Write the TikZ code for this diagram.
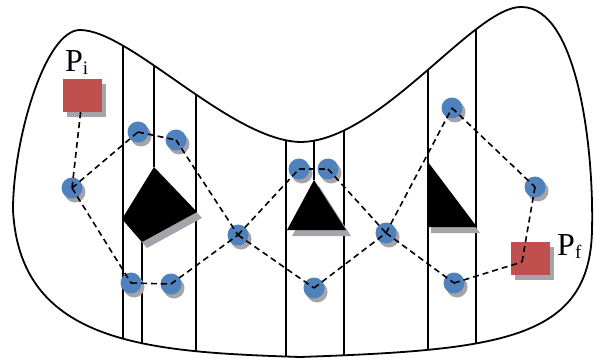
\documentclass[tikz,border=0pt]{standalone}
\usepackage{fontspec}
\setmainfont{Liberation Serif}
\usetikzlibrary{shadows}
\definecolor{dotblue}{HTML}{4F81BD}
\definecolor{boxred}{HTML}{C0504D}
\definecolor{shade}{HTML}{A4A4AA}
\begin{document}
\begin{tikzpicture}[x=1pt,y=-1pt,
  dot/.style={circle,fill=dotblue,minimum size=21pt,inner sep=0pt,
    drop shadow={shadow xshift=3pt,shadow yshift=-4pt,opacity=1,fill=shade}},
  sqbox/.style={rectangle,fill=boxred,minimum width=39pt,minimum height=33pt,inner sep=0pt,
    drop shadow={shadow xshift=4pt,shadow yshift=-5pt,opacity=1,fill=shade}},
  dashline/.style={dash pattern=on 6pt off 4pt,line width=1.6pt},
  wall/.style={line width=1.6pt},
  rim/.style={line width=1.8pt},
  block/.style={fill=black},
  blockshade/.style={fill=shade}]
\useasboundingbox (0,0) rectangle (596,358);
\def\outlinepath{(80,30) .. controls (130,30) and (230,140) .. (300,142)
  .. controls (380,142) and (475,5) .. (522,7)
  .. controls (578,8) and (594,150) .. (592,230)
  .. controls (590,340) and (500,350) .. (300,357)
  .. controls (150,352) and (20,345) .. (13,210)
  .. controls (13,140) and (45,30) .. (80,30) -- cycle}
% vertical walls, clipped to the outline
\begin{scope}
  \clip \outlinepath;
  \draw[wall] (123,0) -- (123,358);
  \draw[wall] (154,0) -- (154,167);
  \draw[wall] (142,242) -- (142,358);
  \draw[wall] (196,0) -- (196,358);
  \draw[wall] (286,0) -- (286,358);
  \draw[wall] (314,0) -- (314,180);
  \draw[wall] (344,0) -- (344,358);
  \draw[wall] (428,0) -- (428,358);
  \draw[wall] (476,0) -- (476,358);
\end{scope}
\draw[rim] \outlinepath;
% obstacles with shadows
\fill[blockshade,shift={(5,6)}] (154,167) -- (197,212) -- (142,242) -- (122,219) -- cycle;
\fill[block] (154,167) -- (197,212) -- (142,242) -- (122,219) -- cycle;
\fill[blockshade,shift={(5,6)}] (314,180) -- (346,230) -- (287,230) -- cycle;
\fill[block] (314,180) -- (346,230) -- (287,230) -- cycle;
\fill[blockshade,shift={(3,6)}] (428,162) -- (477,227) -- (428,227) -- cycle;
\fill[block] (428,162) -- (477,227) -- (428,227) -- cycle;
% start and goal
\node[sqbox] (pi) at (82.5,95.5) {};
\node[sqbox] (pf) at (530.5,258) {};
\coordinate (pfin) at (522,262);
\node[anchor=base west,inner sep=0pt] (pilab) at (65,72)
  {\fontsize{32}{32}\selectfont P\raisebox{-3pt}{\fontsize{19}{19}\selectfont i}};
\node[anchor=base west,inner sep=0pt] (pflab) at (557,255)
  {\fontsize{32}{32}\selectfont P\raisebox{-3pt}{\fontsize{19}{19}\selectfont f}};
% roadmap nodes
\node[dot] (c1) at (72,188) {};
\node[dot] (c2) at (138,132) {};
\node[dot] (c3) at (176,140) {};
\node[dot] (c4) at (238,235) {};
\node[dot] (c5) at (131,283) {};
\node[dot] (c6) at (171,284) {};
\node[dot] (c7) at (299,169) {};
\node[dot] (c8) at (328,169) {};
\node[dot] (c9) at (314,288) {};
\node[dot] (c10) at (386,233) {};
\node[dot] (c11) at (452,108) {};
\node[dot] (c12) at (535,187) {};
\node[dot] (c13) at (454,283) {};
% roadmap edges
\draw[dashline] (pi) -- (c1.center);
\draw[dashline] (c1.center) -- (c2.center);
\draw[dashline] (c2.center) -- (c3.center);
\draw[dashline] (c3.center) -- (c4.center);
\draw[dashline] (c1.center) -- (c5.center);
\draw[dashline] (c5.center) -- (c6.center);
\draw[dashline] (c6.center) -- (c4.center);
\draw[dashline] (c4.center) -- (c7.center);
\draw[dashline] (c7.center) -- (c8.center);
\draw[dashline] (c4.center) -- (c9.center);
\draw[dashline] (c9.center) -- (c10.center);
\draw[dashline] (c8.center) -- (c10.center);
\draw[dashline] (c10.center) -- (c11.center);
\draw[dashline] (c10.center) -- (c13.center);
\draw[dashline] (c11.center) -- (c12.center);
\draw[dashline] (c12.center) -- (pfin);
\draw[dashline] (c13.center) -- (pfin);
\end{tikzpicture}
\end{document}
